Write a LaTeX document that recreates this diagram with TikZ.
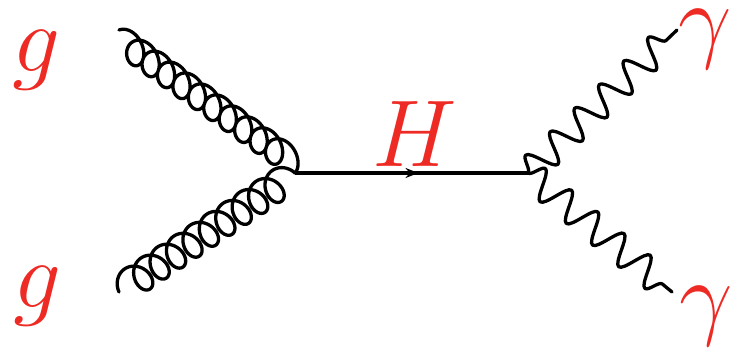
\documentclass[tikz,border=0pt]{standalone}
\usepackage{fix-cm}
\usepackage{xcolor}
\usetikzlibrary{arrows.meta,calc,decorations.pathmorphing,decorations.markings}
\definecolor{labelred}{HTML}{EE2A24}

% from, to, long axis (x,y), short axis (x,y), start angle, end angle
\newcommand{\gluonline}[8]{
  \pgfmathsetmacro{\offsx}{#3*cos(#7)+#5*sin(#7)}
  \pgfmathsetmacro{\offsy}{#4*cos(#7)+#6*sin(#7)}
  \pgfmathsetmacro{\offex}{#3*cos(#8)+#5*sin(#8)}
  \pgfmathsetmacro{\offey}{#4*cos(#8)+#6*sin(#8)}
  \draw[gluon, shift={(#1)}] let \p1=($(#2)-(#1)$) in
    plot[variable=\th, domain=#7:#8, samples=500, smooth]
    ({(\th-#7)/(#8-#7)*(\x1-(\offex-\offsx)*1pt)+(#3*cos(\th)+#5*sin(\th)-\offsx)*1pt},
     {(\th-#7)/(#8-#7)*(\y1-(\offey-\offsy)*1pt)+(#4*cos(\th)+#6*sin(\th)-\offsy)*1pt});
}

\begin{document}
\begin{tikzpicture}[
  x=1pt, y=-1pt,
  >=Stealth,
  line width=3.3pt,
  gluon/.style={draw=black, line cap=round, line join=round},
  photon/.style={draw=black, line cap=round, line join=round, decorate, decoration={snake, amplitude=14.5pt, segment length=34pt}},
  higgs/.style={draw=black, postaction={decorate}, decoration={markings, mark=at position 0.53 with {\arrow{Stealth[length=13pt, width=10pt]}}}},
  lab/.style={text=labelred, inner sep=0pt, font=\fontsize{95}{95}\selectfont}
]
  \useasboundingbox (0,0) rectangle (731,350);
  \coordinate (v1) at (295,173);
  \coordinate (v2) at (528,173);
  \coordinate (g1) at (119,30);
  \coordinate (g2) at (119,292);
  \coordinate (p1) at (677,30);
  \coordinate (p2) at (672,292);
  \gluonline{g1}{v1}{7}{-14}{-10}{-6.5}{180}{3960}
  \gluonline{g2}{v1}{9}{-12.5}{-10}{-7.5}{90}{3510}
  \draw[photon] (v2) -- (p1);
  \draw[photon] (v2) -- (p2);
  \draw[higgs] (v1) -- (v2);
  \node[lab] (lg1) at (36,60) {$g$};
  \node[lab] (lg2) at (37,296) {$g$};
  \node[lab] (lh) at (415,134) {$H$};
  \node[lab] (lp1) at (705,39) {$\gamma$};
  \node[lab] (lp2) at (706,316) {$\gamma$};
\end{tikzpicture}
\end{document}
